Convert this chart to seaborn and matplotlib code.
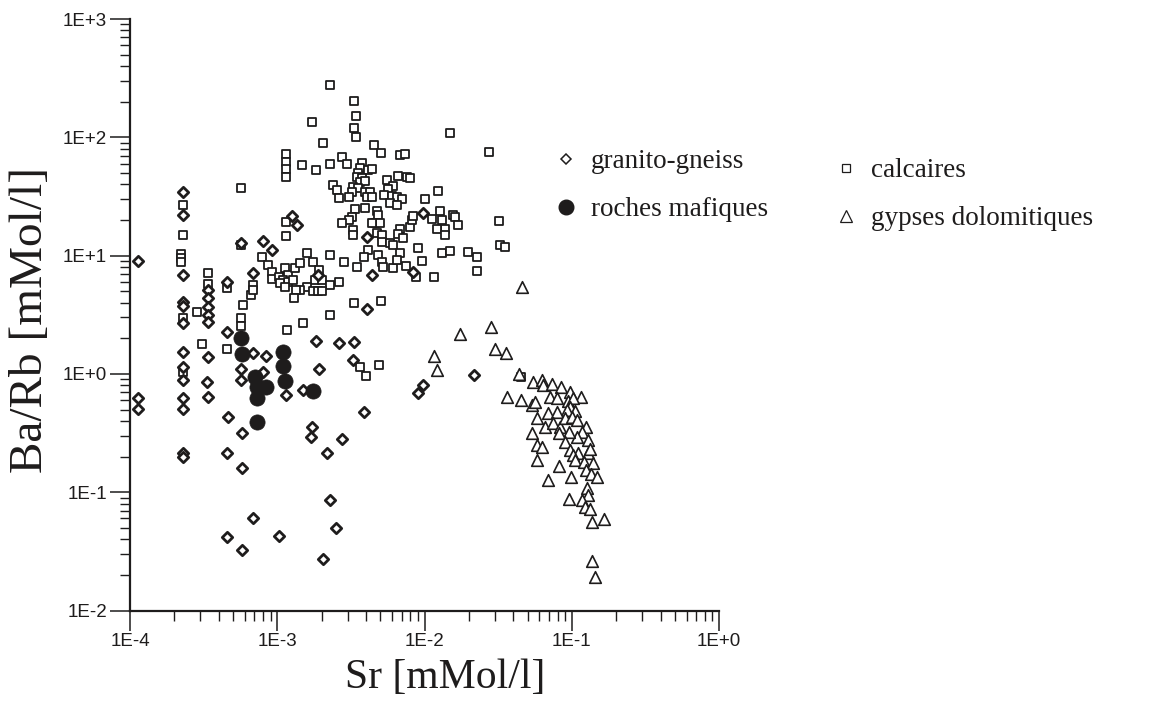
import numpy as np
import matplotlib
matplotlib.use("Agg")
import matplotlib.pyplot as plt
import seaborn as sns
from matplotlib.lines import Line2D
from matplotlib.ticker import FixedLocator, FuncFormatter, LogLocator, NullFormatter

# ---------------- data (Sr [mMol/l], Ba/Rb) ----------------
gg_sr = [2.28e-4, 2.28e-4, 1.14e-4, 2.28e-4, 3.40e-4, 3.40e-4, 3.40e-4, 3.40e-4, 3.40e-4,
         2.28e-4, 2.28e-4, 2.28e-4, 2.28e-4, 3.40e-4, 2.28e-4, 2.28e-4, 3.32e-4, 1.14e-4,
         1.14e-4, 2.28e-4, 2.28e-4, 3.40e-4, 2.28e-4, 2.28e-4, 1.25e-3, 1.37e-3, 5.69e-4,
         7.96e-4, 9.16e-4, 6.81e-4, 4.53e-4, 1.90e-3, 4.37e-3, 4.04e-3, 4.53e-4, 6.87e-4,
         8.34e-4, 1.82e-3, 2.64e-3, 3.32e-3, 3.25e-3, 1.93e-3, 5.69e-4, 8.03e-4, 5.69e-4,
         1.49e-3, 1.14e-3, 4.65e-4, 3.90e-3, 1.71e-3, 5.73e-4, 1.69e-3, 2.74e-3, 2.16e-3,
         4.53e-4, 5.73e-4, 2.28e-3, 6.81e-4, 2.50e-3, 4.53e-4, 1.03e-3, 5.73e-4, 2.05e-3,
         9.71e-3, 4.04e-3, 8.38e-3, 2.16e-2, 9.71e-3, 9.06e-3]
gg_barb = [34.3, 22.0, 9.06, 6.85, 5.12, 4.35, 3.70, 3.15, 2.76,
           4.08, 3.75, 2.68, 1.54, 1.40, 1.15, 0.888, 0.86, 0.622,
           0.502, 0.622, 0.502, 0.634, 0.214, 0.198, 21.6, 18.1, 12.9,
           13.3, 11.1, 7.17, 6.02, 6.85, 6.85, 3.52, 2.27, 1.51,
           1.42, 1.91, 1.84, 1.85, 1.31, 1.09, 1.11, 1.04, 0.888,
           0.731, 0.663, 0.435, 0.479, 0.358, 0.315, 0.291, 0.28, 0.216,
           0.216, 0.159, 0.086, 0.060, 0.0495, 0.0416, 0.0429, 0.0325, 0.0271,
           23.0, 14.4, 7.31, 0.98, 0.806, 0.686]

rm_sr = [5.67e-4, 5.73e-4, 7.06e-4, 7.25e-4, 8.38e-4, 7.31e-4, 7.31e-4, 1.09e-3, 1.09e-3,
         1.13e-3, 1.75e-3]
rm_barb = [2.0, 1.47, 0.95, 0.78, 0.77, 0.62, 0.39, 1.52, 1.17, 0.87, 0.71]

ca_sr = [2.28e-3, 3.31e-3, 3.42e-3, 1.71e-3, 3.31e-3, 3.42e-3, 2.05e-3, 4.56e-3, 5.05e-3,
         6.80e-3, 7.35e-3, 1.49e-2, 2.73e-2, 1.14e-3, 1.14e-3, 1.14e-3, 1.14e-3, 1.48e-3,
         1.83e-3, 2.28e-3, 2.73e-3, 2.96e-3, 3.74e-3, 3.64e-3, 4.15e-3, 4.37e-3, 3.55e-3,
         3.46e-3, 3.74e-3, 3.64e-3, 3.94e-3, 3.28e-3, 3.55e-3, 3.94e-3, 4.26e-3, 4.05e-3,
         4.37e-3, 3.20e-3, 3.08e-3, 5.53e-3, 6.13e-3, 5.67e-3, 6.63e-3, 7.56e-3, 7.96e-3,
         5.30e-3, 6.01e-3, 6.50e-3, 6.99e-3, 5.82e-3, 6.47e-3, 2.40e-3, 2.53e-3, 2.64e-3,
         1.23e-2, 1.01e-2, 3.37e-3, 3.20e-3, 3.08e-3, 2.73e-3, 3.94e-3, 4.75e-3, 4.85e-3,
         4.61e-3, 4.98e-3, 4.37e-3, 3.28e-3, 3.28e-3, 6.80e-3, 6.63e-3, 7.96e-3, 8.17e-3,
         1.27e-2, 1.31e-2, 1.38e-2, 1.21e-2, 1.57e-2, 1.61e-2, 1.69e-2, 8.38e-3, 1.12e-2,
         1.38e-2, 3.21e-2, 4.73e-3, 5.11e-3, 7.17e-3, 5.11e-3, 5.82e-3, 6.13e-3, 9.06e-3,
         1.31e-2, 1.49e-2, 1.98e-2, 2.26e-2, 3.25e-2, 3.52e-2, 2.28e-2, 1.58e-3, 1.76e-3,
         2.28e-3, 2.85e-3, 4.15e-3, 3.88e-3, 3.49e-3, 4.85e-3, 5.11e-3, 5.24e-3, 6.07e-3,
         6.80e-3, 7.47e-3, 9.56e-3, 8.74e-3, 1.15e-2, 1.93e-3, 1.80e-3, 2.00e-3, 2.28e-3,
         2.64e-3, 1.58e-3, 1.43e-3, 1.76e-3, 1.90e-3, 2.00e-3, 3.31e-3, 5.05e-3, 2.28e-3,
         1.49e-3, 5.69e-4, 2.28e-4, 2.28e-4, 2.22e-4, 2.22e-4, 2.22e-4, 2.28e-4, 2.28e-4,
         3.40e-4, 3.40e-4, 2.84e-4, 3.07e-4, 4.53e-4, 4.56e-4, 5.71e-4, 5.71e-4, 5.88e-4,
         6.60e-4, 6.87e-4, 6.87e-4, 7.84e-4, 8.69e-4, 1.14e-3, 1.14e-3, 5.67e-4, 9.16e-4,
         9.16e-4, 1.02e-3, 1.13e-3, 1.19e-3, 1.10e-3, 1.19e-3, 1.28e-3, 1.32e-3, 1.43e-3,
         1.04e-3, 1.13e-3, 1.35e-3, 1.30e-3, 1.16e-3, 6.47e-3, 3.67e-3, 4.03e-3, 4.90e-3,
         4.51e-2]
ca_barb = [277, 203, 151, 135.5, 119, 101, 90.0, 86.9, 74.1,
           70.9, 72.3, 109, 74.7, 72.3, 62.2, 53.6, 46.4, 58.3,
           53.4, 59.5, 68.5, 59.5, 60.6, 54.7, 52.9, 53.6, 49.6,
           46.4, 45.0, 42.1, 43.0, 38.2, 37.1, 34.7, 34.7, 31.5,
           31.1, 34.7, 31.1, 43.6, 39.1, 36.6, 47.1, 46.4, 45.0,
           32.5, 31.9, 31.3, 29.9, 27.7, 26.8, 39.5, 36.1, 30.5,
           35.2, 29.9, 24.6, 21.3, 20.0, 18.75, 25.1, 23.8, 22.0,
           18.75, 18.75, 18.75, 16.5, 14.9, 16.8, 15.2, 17.3, 20.0,
           23.8, 20.0, 16.8, 16.8, 22.0, 21.3, 18.0, 21.6, 20.3,
           14.9, 19.7, 15.4, 14.9, 14.0, 13.1, 12.7, 12.3, 11.5,
           10.5, 11.0, 10.8, 9.79, 12.3, 11.75, 7.41, 10.5, 8.88,
           10.1, 8.83, 11.15, 9.79, 8.06, 10.1, 8.88, 8.06, 7.81,
           10.6, 8.17, 9.0, 6.63, 6.63, 7.56, 6.22, 6.22, 5.64,
           6.02, 5.46, 5.12, 5.02, 5.02, 5.02, 3.95, 4.16, 3.15,
           2.68, 37.5, 26.8, 14.9, 10.3, 9.54, 8.83, 2.95, 1.04,
           7.09, 5.75, 3.36, 1.79, 5.37, 1.633, 2.95, 2.54, 3.82,
           4.64, 5.64, 5.12, 9.67, 8.33, 19.3, 14.6, 12.3, 7.31,
           6.31, 6.63, 7.81, 6.85, 6.22, 6.02, 6.22, 7.81, 8.61,
           5.83, 5.46, 5.12, 4.34, 2.35, 9.18, 1.15, 0.96, 1.18,
           0.94]

gy_sr = [4.55e-2, 1.74e-2, 2.81e-2, 3.01e-2, 3.57e-2, 1.15e-2, 1.21e-2, 4.39e-2, 3.61e-2,
         4.48e-2, 5.33e-2, 5.66e-2, 5.44e-2, 6.24e-2, 6.39e-2, 7.29e-2, 8.37e-2, 9.78e-2,
         0.115, 7.10e-2, 7.98e-2, 9.45e-2, 0.102, 9.71e-2, 0.105, 9.22e-2, 6.92e-2,
         7.88e-2, 5.80e-2, 6.57e-2, 7.47e-2, 8.30e-2, 8.98e-2, 9.97e-2, 0.108, 0.125,
         0.117, 0.129, 0.108, 9.60e-2, 5.40e-2, 8.17e-2, 8.98e-2, 5.84e-2, 6.27e-2,
         9.71e-2, 0.110, 0.102, 0.129, 0.133, 5.80e-2, 0.105, 0.120, 0.138,
         8.21e-2, 9.86e-2, 0.125, 0.135, 0.147, 6.92e-2, 0.126, 0.129, 9.60e-2,
         0.117, 0.123, 0.133, 0.1375, 0.165, 0.136, 0.1435]
gy_barb = [5.43, 2.17, 2.47, 1.61, 1.51, 1.41, 1.08, 0.99, 0.644,
           0.602, 0.546, 0.582, 0.859, 0.88, 0.806, 0.821, 0.775, 0.707,
           0.642, 0.632, 0.628, 0.59, 0.622, 0.528, 0.49, 0.495, 0.465,
           0.475, 0.421, 0.358, 0.382, 0.358, 0.42, 0.432, 0.408, 0.358,
           0.325, 0.276, 0.294, 0.325, 0.315, 0.316, 0.267, 0.253, 0.241,
           0.227, 0.214, 0.208, 0.213, 0.232, 0.187, 0.187, 0.181, 0.175,
           0.165, 0.135, 0.154, 0.143, 0.135, 0.127, 0.108, 0.0947, 0.0876,
           0.0859, 0.0754, 0.0717, 0.0563, 0.059, 0.0264, 0.0193]

labels = ["granito-gneiss", "roches mafiques", "calcaires", "gypses dolomitiques"]
x_ticks = [1e-4, 1e-3, 1e-2, 1e-1, 1e0]
y_ticks = [1e-2, 1e-1, 1e0, 1e1, 1e2, 1e3]

# ---------------- style ----------------
sns.set_style("ticks")
plt.rcParams['font.family'] = ['Liberation Sans', 'DejaVu Sans']
ink = '#1e1c1c'
serif = 'Liberation Serif'

fig = plt.figure(figsize=(11.69, 7.08), dpi=100)
ax = fig.add_axes([130 / 1169, 97.5 / 708, 589.2 / 1169, 591.5 / 708])

sns.scatterplot(x=ca_sr, y=ca_barb, marker='s', s=40, facecolor='white', edgecolor=ink,
                linewidth=1.3, ax=ax, legend=False, zorder=3)
sns.scatterplot(x=gy_sr, y=gy_barb, marker='^', s=70, facecolor='white', edgecolor=ink,
                linewidth=1.2, ax=ax, legend=False, zorder=3)
sns.scatterplot(x=gg_sr, y=gg_barb, marker='D', s=28, facecolor='white', edgecolor=ink,
                linewidth=2.0, ax=ax, legend=False, zorder=4)
sns.scatterplot(x=rm_sr, y=rm_barb, marker='o', s=120, facecolor=ink, edgecolor=ink,
                linewidth=0.5, ax=ax, legend=False, zorder=5)

ax.set_xscale('log')
ax.set_yscale('log')
ax.set_xlim(x_ticks[0], x_ticks[-1])
ax.set_ylim(y_ticks[0], y_ticks[-1])

fmt = FuncFormatter(lambda v, p: "1E{:+d}".format(int(round(np.log10(v)))))
for axis, ticks in ((ax.xaxis, x_ticks), (ax.yaxis, y_ticks)):
    axis.set_major_locator(FixedLocator(ticks))
    axis.set_major_formatter(fmt)
    axis.set_minor_locator(LogLocator(base=10, subs=np.arange(2, 10)))
    axis.set_minor_formatter(NullFormatter())

ax.tick_params(which='major', direction='out', length=14.5, width=1.1, color=ink,
               labelsize=13.5, labelcolor=ink, pad=2)
ax.tick_params(which='minor', direction='out', length=7.5, width=1.0, color=ink)

for side in ('top', 'right'):
    ax.spines[side].set_visible(False)
for side in ('left', 'bottom'):
    ax.spines[side].set_linewidth(1.6)
    ax.spines[side].set_color(ink)
ax.grid(False)

ax.set_xlabel('Sr [mMol/l]', fontfamily=serif, fontsize=30, color=ink)
ax.xaxis.set_label_coords((445 - 130) / 589.2, (610.5 - 659) / 591.5)
ax.set_ylabel('Ba/Rb [mMol/l]', fontfamily=serif, fontsize=34, color=ink)
ax.yaxis.set_label_coords((52 - 130) / 589.2, (610.5 - 320) / 591.5)

# ---------------- legends ----------------
h_gg = Line2D([], [], ls='none', marker='D', ms=5, mfc='white', mec=ink, mew=1.1)
h_rm = Line2D([], [], ls='none', marker='o', ms=10.5, mfc=ink, mec=ink)
h_ca = Line2D([], [], ls='none', marker='s', ms=6, mfc='white', mec=ink, mew=0.9)
h_gy = Line2D([], [], ls='none', marker='^', ms=8, mfc='white', mec=ink, mew=0.9)
prop = {'family': serif, 'size': 19.5}
common = dict(frameon=False, prop=prop, handlelength=1.0, handletextpad=0.45,
              labelspacing=0.85, borderpad=0, borderaxespad=0, labelcolor=ink,
              bbox_transform=fig.transFigure, loc='upper left')
leg1 = ax.legend([h_gg, h_rm], labels[:2], bbox_to_anchor=(552 / 1169, 1 - 149 / 708), **common)
ax.add_artist(leg1)
leg2 = ax.legend([h_ca, h_gy], labels[2:], bbox_to_anchor=(832 / 1169, 1 - 158 / 708), **common)

fig.savefig('out.png', dpi=100)
